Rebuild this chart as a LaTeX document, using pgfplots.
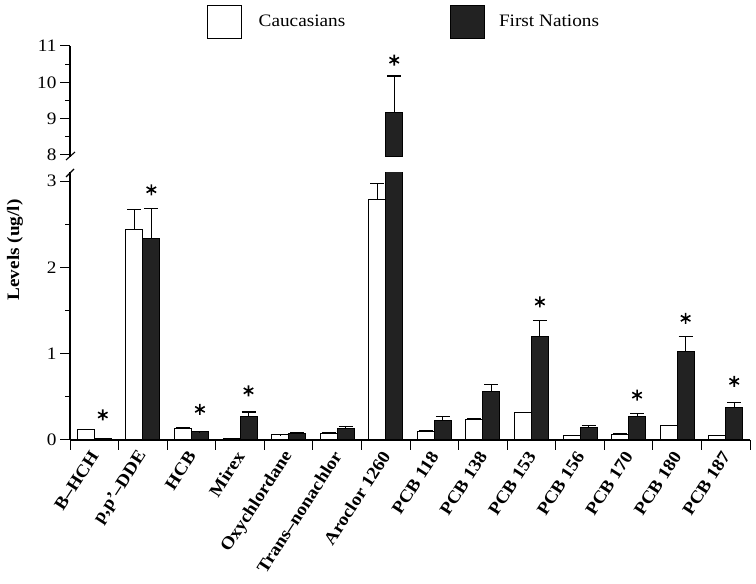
\documentclass[border=0pt]{standalone}
\usepackage{fontspec}
\setmainfont{Liberation Serif}[FakeStretch=1.1]
\usepackage{pgfplots}
\pgfplotsset{compat=1.18}
\usepackage{pgfplotstable}
\definecolor{barblack}{HTML}{222222}
\pgfplotstableread{
x w we b be
0 0.12 0.004 0.02 0.0
1 2.445 0.225 2.33 0.355
2 0.135 0.008 0.093 0.004
3 0.02 0.0 0.278 0.047
4 0.058 0.004 0.077 0.004
5 0.08 0.008 0.135 0.025
6 2.79 0.18 9.175 1.0
7 0.104 0.004 0.228 0.042
8 0.24 0.005 0.56 0.08
9 0.313 0.01 1.20 0.19
10 0.05 0.003 0.147 0.02
11 0.066 0.004 0.27 0.035
12 0.166 0.005 1.03 0.167
13 0.05 0.004 0.374 0.063
}\datatab
\pgfplotstableread{
x y
0.175 0.29
1.175 2.9
2.175 0.355
3.175 0.57
6.175 10.61
9.175 1.6
11.175 0.52
12.175 1.41
13.175 0.68
}\startab
\begin{document}
\begin{tikzpicture}[font=\fontsize{17.5}{20}\selectfont]
\path[use as bounding box] (0,0) rectangle (756pt,584pt);
\pgfplotsset{
 common/.style={
  scale only axis, width=680pt, xmin=-0.5, xmax=13.5,
  axis y line*=left, axis line style={-, line width=1.1pt},
  tick align=outside, major tick length=10pt, minor tick length=5pt,
  tick style={line width=1pt, black},
  /pgf/number format/assume math mode=true,
  yticklabel style={font=\fontsize{17.5}{20}\selectfont},
  ybar=0pt, bar width=0.35,
 },
 lowerpos/.style={at={(70pt,144pt)}, anchor=south west, scale only axis, width=680pt, height=267.5pt,
  xmin=-0.5, xmax=13.5, ymin=0, ymax=3.1},
 upperpos/.style={at={(70pt,427.2pt)}, anchor=south west, scale only axis, width=680pt, height=110.8pt,
  xmin=-0.5, xmax=13.5, ymin=7.95, ymax=11},
 errstyle/.style={error bars/.cd, y dir=plus, y explicit,
  error bar style={line width=1.1pt, draw=black},
  error mark options={rotate=90, mark size=7pt, line width=1.1pt, draw=black}},
 wbar/.style={draw=black, fill=white, line width=1pt, errstyle},
 bbar/.style={draw=black, fill=barblack, line width=1pt, errstyle},
 starplot/.style={only marks, mark=asterisk, mark size=5.5pt, mark options={line width=1.6pt, black}},
}
% lower axis
\begin{axis}[common, lowerpos,
  ytick={0,1,2,3}, minor ytick={0.5,1.5,2.5},
  axis x line*=bottom,
  xtick={-0.5,0.5,...,13.5},
  xticklabels={B--HCH, {p,p'--DDE}, HCB, Mirex, Oxychlordane, Trans--nonachlor, Aroclor 1260, PCB 118, PCB 138, PCB 153, PCB 156, PCB 170, PCB 180, PCB 187, {}},
  xticklabel style={font=\bfseries\fontsize{17.5}{20}\selectfont, xshift=26.5pt, rotate=57, anchor=east},
]
\addplot[wbar] table[x=x, y=w, y error=we]{\datatab};
\addplot[bbar] table[x=x, y=b, y error=be]{\datatab};
\end{axis}
% upper axis: only the Aroclor 1260 First Nations bar reaches it
\begin{axis}[common, upperpos,
  ytick={8,9,10,11}, minor ytick={8.5,9.5,10.5},
  axis x line=none,
]
\addplot[draw=none, fill=none] coordinates {(6,0)};
\addplot[bbar] coordinates {(6,9.175) +- (0,1.0)};
\end{axis}
% stars, lower
\begin{axis}[lowerpos, hide axis]
\addplot[starplot] table[x=x, y=y]{\startab};
\end{axis}
% stars, upper, and legend
\begin{axis}[upperpos, hide axis,
  legend style={at={(0.2015,1.221)}, anchor=west, draw=none, fill=none, inner sep=0pt, outer sep=0pt,
    legend columns=2, cells={anchor=west}, font=\fontsize{17.5}{20}\selectfont,
    /tikz/every even column/.append style={column sep=103pt}},
  legend cell align=left,
]
\addlegendimage{legend image code/.code={\draw[black, line width=1pt, fill=white] (0pt,-16.5pt) rectangle (34pt,16.5pt); \path (49pt,0pt);}}
\addlegendimage{legend image code/.code={\draw[black, line width=1pt, fill=barblack] (0pt,-16.5pt) rectangle (34pt,16.5pt); \path (46pt,0pt);}}
\addplot[starplot] table[x=x, y=y]{\startab};
\legend{Caucasians, First Nations}
\end{axis}
\draw[line width=1.1pt] (66pt,424pt) -- (75pt,432pt);
\draw[line width=1.1pt] (66pt,407pt) -- (74pt,415pt);
\node[rotate=90, font=\bfseries\fontsize{17.5}{20}\selectfont] at (15pt,334pt) {Levels (ug/l)};
\end{tikzpicture}
\end{document}
